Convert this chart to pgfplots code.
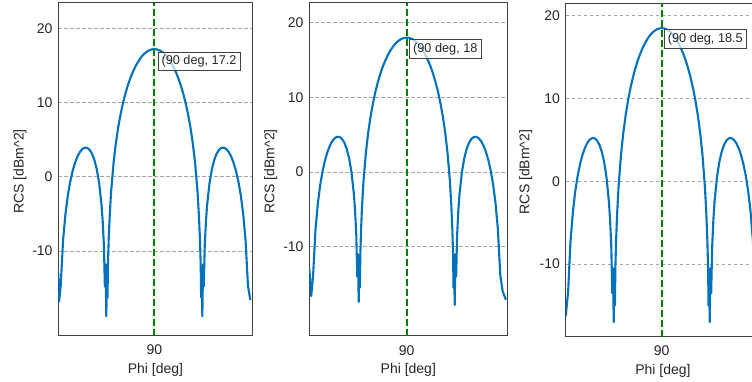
\documentclass[border=0pt]{standalone}
\usepackage{pgfplots}
\pgfplotsset{compat=1.18}
\usepackage{fontspec}
\setmainfont{Liberation Sans}
\definecolor{mblue}{RGB}{0,114,189}
\definecolor{mgreen}{RGB}{0,128,0}
\definecolor{txt}{RGB}{38,38,38}
\definecolor{axc}{RGB}{64,64,64}
\pgfplotsset{rcs/.style={
  scale only axis, anchor=south west,
  xtick={90}, ytick={-10,0,10,20},
  major tick length=0pt,
  ymajorgrids,
  grid style={dash pattern=on 3.5pt off 2.5pt, color=black!35, line width=0.8pt},
  axis line style={draw=axc, line width=1pt},
  tick label style={font=\fontsize{14}{16}\selectfont, text=txt},
  /pgf/number format/assume math mode=true,
  xticklabel style={anchor=base, inner sep=0pt, yshift=-19.3pt},
  yticklabel style={anchor=east, inner sep=0pt, xshift=-5.6pt},
  xlabel={Phi [deg]}, ylabel={RCS [dBm\textasciicircum 2]},
  label style={font=\fontsize{14}{16}\selectfont, text=txt},
  xlabel style={at={(axis description cs:0.5,0)}, anchor=base, inner sep=0pt, yshift=-37.6pt},
}}
\tikzset{tip/.style={draw=axc, fill=white, fill opacity=0.7, text opacity=1, text=txt,
  anchor=north west, inner xsep=3.5pt, inner ysep=3pt, text height=9.5pt, text depth=3pt,
  font=\fontsize{12.7}{14}\selectfont, line width=0.8pt}}
\begin{document}
\begin{tikzpicture}
\path[use as bounding box] (0pt,0pt) rectangle (752pt,382pt);
\clip (0pt,0pt) rectangle (752pt,382pt);
% Panel 1
\begin{axis}[rcs, at={(58.3pt,46.3pt)}, width=194.4pt, height=332.7pt,
  xmin=0, xmax=182.2, ymin=-21.41, ymax=23.41,
  ylabel style={at={(axis description cs:-0.197,0.494)}, anchor=center}]
\addplot[mblue, line width=2.1pt, line join=round] coordinates {
(0,-13.0) (0.7,-16.8) (2.25,-14.66) (4.5,-8.52) (6.75,-4.95) (9,-2.46) (11.25,-0.61) (13.5,0.81) (15.75,1.90) (18,2.74) (20.25,3.34) (22.5,3.73) (24.75,3.92) (27,3.90) (29.25,3.65) (31.5,3.14) (33.75,2.31) (36,1.06) (38.25,-0.82) (40.5,-3.77) (41.62,-6.01) (42.75,-9.28) (43.65,-14.8) (44.32,-11.8) (45,-18.8) (45.67,-12.3) (46.12,-16.3) (46.57,-11.6) (47.25,-8.41) (48.15,-5.34) (49.5,-2.03) (51.75,1.81) (54,4.58) (56.25,6.75) (58.5,8.51) (60.75,10.00) (63,11.26) (65.25,12.34) (67.5,13.28) (69.75,14.08) (72,14.78) (74.25,15.37) (76.5,15.87) (78.75,16.29) (81,16.62) (83.25,16.88) (85.5,17.06) (87.75,17.16) (90,17.20)
(92.25,17.16) (94.5,17.06) (96.75,16.88) (99,16.62) (101.25,16.29) (103.5,15.87) (105.75,15.37) (108,14.78) (110.25,14.08) (112.5,13.28) (114.75,12.34) (117,11.26) (119.25,10.00) (121.5,8.51) (123.75,6.75) (126,4.58) (128.25,1.81) (130.5,-2.03) (131.85,-5.34) (132.75,-8.41) (133.43,-11.6) (133.88,-16.3) (134.33,-12.3) (135,-18.8) (135.68,-11.8) (136.35,-14.8) (137.25,-9.28) (138.38,-6.01) (139.5,-3.77) (141.75,-0.82) (144,1.06) (146.25,2.31) (148.5,3.14) (150.75,3.65) (153,3.90) (155.25,3.92) (157.5,3.73) (159.75,3.34) (162,2.74) (164.25,1.90) (166.5,0.81) (168.75,-0.61) (171,-2.46) (173.25,-4.95) (175.5,-8.52) (177.75,-14.66) (180,-16.6)
};
\addplot[mgreen, line width=2pt, dash pattern=on 7pt off 3pt] coordinates {(90,-21.41) (90,23.41)};
\node[tip, xshift=3.4pt, yshift=-2.5pt] at (axis cs:90,17.2) {(90 deg, 17.2};
\end{axis}
% Panel 2
\begin{axis}[rcs, at={(309.3pt,46pt)}, width=198pt, height=333.3pt,
  xmin=-1.3, xmax=184.3, ymin=-21.96, ymax=22.68,
  ylabel style={at={(axis description cs:-0.195,0.494)}, anchor=center}]
\addplot[mblue, line width=2.1pt, line join=round] coordinates {
(-1.3,-13.0) (0.5,-16.6) (2.25,-13.86) (4.5,-7.72) (6.75,-4.15) (9,-1.66) (11.25,0.19) (13.5,1.61) (15.75,2.70) (18,3.54) (20.25,4.14) (22.5,4.53) (24.75,4.72) (27,4.70) (29.25,4.45) (31.5,3.94) (33.75,3.11) (36,1.86) (38.25,-0.02) (40.5,-2.97) (41.62,-5.21) (42.75,-8.48) (43.65,-14.0) (44.32,-11.0) (45,-17.4) (45.67,-11.5) (46.12,-15.5) (46.57,-10.8) (47.25,-7.61) (48.15,-4.54) (49.5,-1.23) (51.75,2.61) (54,5.38) (56.25,7.55) (58.5,9.31) (60.75,10.80) (63,12.06) (65.25,13.14) (67.5,14.08) (69.75,14.88) (72,15.58) (74.25,16.17) (76.5,16.67) (78.75,17.09) (81,17.42) (83.25,17.68) (85.5,17.86) (87.75,17.96) (90,18.00)
(92.25,17.96) (94.5,17.86) (96.75,17.68) (99,17.42) (101.25,17.09) (103.5,16.67) (105.75,16.17) (108,15.58) (110.25,14.88) (112.5,14.08) (114.75,13.14) (117,12.06) (119.25,10.80) (121.5,9.31) (123.75,7.55) (126,5.38) (128.25,2.61) (130.5,-1.23) (131.85,-4.54) (132.75,-7.61) (133.43,-10.8) (133.88,-15.5) (134.33,-11.5) (135,-17.8) (135.68,-11.0) (136.35,-14.0) (137.25,-8.48) (138.38,-5.21) (139.5,-2.97) (141.75,-0.02) (144,1.86) (146.25,3.11) (148.5,3.94) (150.75,4.45) (153,4.70) (155.25,4.72) (157.5,4.53) (159.75,4.14) (162,3.54) (164.25,2.70) (166.5,1.61) (168.75,0.19) (171,-1.66) (173.25,-4.15) (175.5,-7.72) (177.75,-13.86) (180,-16.0) (183,-17.1)
};
\addplot[mgreen, line width=2pt, dash pattern=on 7pt off 3pt] coordinates {(90,-21.96) (90,22.68)};
\node[tip, xshift=2.6pt, yshift=-1.5pt] at (axis cs:90,18) {(90 deg, 18};
\end{axis}
% Panel 3
\begin{axis}[rcs, at={(565.7pt,45.3pt)}, width=194.4pt, height=333.4pt,
  xmin=0, xmax=182.2, ymin=-18.76, ymax=21.5,
  ylabel style={at={(axis description cs:-0.206,0.494)}, anchor=center}]
\addplot[mblue, line width=2.1pt, line join=round] coordinates {
(0,-16.3) (2.25,-13.36) (4.5,-7.22) (6.75,-3.65) (9,-1.16) (11.25,0.69) (13.5,2.11) (15.75,3.20) (18,4.04) (20.25,4.64) (22.5,5.03) (24.75,5.22) (27,5.20) (29.25,4.95) (31.5,4.44) (33.75,3.61) (36,2.36) (38.25,0.48) (40.5,-2.47) (41.62,-4.71) (42.75,-7.98) (43.65,-13.5) (44.32,-10.5) (45,-17.0) (45.67,-11.0) (46.12,-15.0) (46.57,-10.3) (47.25,-7.11) (48.15,-4.04) (49.5,-0.73) (51.75,3.11) (54,5.88) (56.25,8.05) (58.5,9.81) (60.75,11.30) (63,12.56) (65.25,13.64) (67.5,14.58) (69.75,15.38) (72,16.08) (74.25,16.67) (76.5,17.17) (78.75,17.59) (81,17.92) (83.25,18.18) (85.5,18.36) (87.75,18.46) (90,18.50)
(92.25,18.46) (94.5,18.36) (96.75,18.18) (99,17.92) (101.25,17.59) (103.5,17.17) (105.75,16.67) (108,16.08) (110.25,15.38) (112.5,14.58) (114.75,13.64) (117,12.56) (119.25,11.30) (121.5,9.81) (123.75,8.05) (126,5.88) (128.25,3.11) (130.5,-0.73) (131.85,-4.04) (132.75,-7.11) (133.43,-10.3) (133.88,-15.0) (134.33,-11.0) (135,-17.0) (135.68,-10.5) (136.35,-13.5) (137.25,-7.98) (138.38,-4.71) (139.5,-2.47) (141.75,0.48) (144,2.36) (146.25,3.61) (148.5,4.44) (150.75,4.95) (153,5.20) (155.25,5.22) (157.5,5.03) (159.75,4.64) (162,4.04) (164.25,3.20) (166.5,2.11) (168.75,0.69) (171,-1.16) (173.25,-3.65) (175.5,-7.22) (177.75,-13.36) (180,-16.0)
};
\addplot[mgreen, line width=2pt, dash pattern=on 7pt off 3pt] coordinates {(90,-18.76) (90,21.5)};
\node[tip, xshift=2.3pt, yshift=-1pt] at (axis cs:90,18.5) {(90 deg, 18.5};
\end{axis}
\end{tikzpicture}
\end{document}
